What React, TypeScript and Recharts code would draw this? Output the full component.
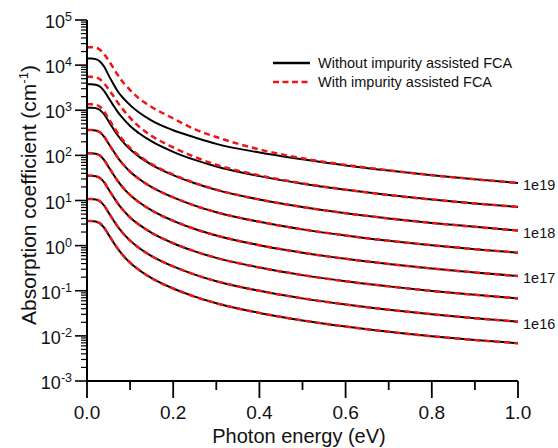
import React from 'react';
import { LineChart, Line, XAxis, YAxis, ReferenceDot } from 'recharts';

const energy = [0, 0.01, 0.02, 0.03, 0.04, 0.05, 0.06, 0.07, 0.08, 0.1, 0.12, 0.15, 0.2, 0.25, 0.3, 0.4, 0.5, 0.6, 0.7, 0.8, 0.9, 1.0];

// Without impurity assisted FCA (black solid), one per doping level (top to bottom)
const noImp1 = [14000, 14000, 13600, 12100, 9200, 6000, 4000, 2750, 2050, 1300, 900, 590, 360, 250, 180, 116, 82, 60, 46, 36.2, 29.5, 24.4];
const noImp2 = [3760, 3760, 3674, 3350, 2662, 1884, 1335, 955, 718, 447, 313, 204, 120, 79.3, 56.8, 34.7, 23.6, 17.3, 13.2, 10.5, 8.6, 7.2];
const noImp3 = [1140, 1140, 1114, 1016, 807, 571, 405, 290, 218, 136, 94.8, 61.9, 36.5, 24.1, 17.2, 10.5, 7.16, 5.23, 4.01, 3.19, 2.61, 2.15];
const noImp4 = [365, 365, 357, 325, 258, 183, 130, 92.7, 69.7, 43.4, 30.4, 19.8, 11.7, 7.7, 5.51, 3.37, 2.29, 1.68, 1.28, 1.02, 0.836, 0.697];
const noImp5 = [111, 111, 108.4, 98.9, 78.6, 55.6, 39.4, 28.2, 21.2, 13.2, 9.24, 6.03, 3.55, 2.34, 1.68, 1.02, 0.697, 0.509, 0.391, 0.311, 0.254, 0.212];
const noImp6 = [35.4, 35.4, 34.6, 31.5, 25.1, 17.7, 12.6, 8.99, 6.76, 4.21, 2.95, 1.92, 1.13, 0.747, 0.535, 0.327, 0.222, 0.162, 0.125, 0.0991, 0.0811, 0.0676];
const noImp7 = [10.8, 10.8, 10.55, 9.62, 7.65, 5.41, 3.83, 2.74, 2.06, 1.29, 0.899, 0.586, 0.346, 0.228, 0.163, 0.0997, 0.0678, 0.0496, 0.038, 0.0302, 0.0247, 0.0206];
const noImp8 = [3.5, 3.5, 3.42, 3.12, 2.48, 1.75, 1.24, 0.889, 0.669, 0.417, 0.291, 0.19, 0.112, 0.0739, 0.0529, 0.0323, 0.022, 0.0161, 0.0123, 0.0098, 0.0081, 0.0069];

// With impurity assisted FCA (red dashed)
const withImp1 = [25000, 25000, 24400, 22000, 17500, 12800, 9000, 6300, 4600, 2800, 1850, 1180, 660, 380, 255, 135, 86, 61.5, 46.5, 36.5, 29.6, 24.5];
const withImp2 = [5500, 5500, 5370, 4850, 3900, 2950, 2150, 1550, 1150, 680, 440, 270, 150, 92, 62, 36, 24, 17.4, 13.2, 10.5, 8.6, 7.2];
const withImp3 = [1350, 1350, 1318, 1195, 935, 655, 460, 325, 240, 146, 100, 64, 37.5, 24.5, 17.4, 10.5, 7.16, 5.23, 4.01, 3.19, 2.61, 2.15];
const withImp4 = noImp4;
const withImp5 = noImp5;
const withImp6 = noImp6;
const withImp7 = noImp7;
const withImp8 = noImp8;

const blackSeries = [noImp1, noImp2, noImp3, noImp4, noImp5, noImp6, noImp7, noImp8];
const redSeries = [withImp1, withImp2, withImp3, withImp4, withImp5, withImp6, withImp7, withImp8];

const dopingLabels = ['1e19', '1e18', '1e17', '1e16'];
const dopingCurveIndex = [0, 2, 4, 6];

const xTicks = [0, 0.1, 0.2, 0.3, 0.4, 0.5, 0.6, 0.7, 0.8, 0.9, 1.0];
const yMajorTicks = [1e-3, 1e-2, 1e-1, 1, 10, 100, 1e3, 1e4, 1e5];
const yMinorMultipliers = [2, 3, 4, 5, 6, 7, 8, 9];

const yTicks: number[] = [];
yMajorTicks.forEach((m, i) => {
  yTicks.push(m);
  if (i < yMajorTicks.length - 1) yMinorMultipliers.forEach((k) => yTicks.push(m * k));
});

const data = energy.map((x, i) => {
  const row: any = { x };
  blackSeries.forEach((s, j) => (row['b' + j] = s[i]));
  redSeries.forEach((s, j) => (row['r' + j] = s[i]));
  return row;
});

const FONT = '"Liberation Sans", Arial, sans-serif';
const RED = '#f01414';

const YTick = (props: any) => {
  const { x, y, payload } = props;
  const v = payload.value as number;
  const e = Math.round(Math.log10(v));
  const isMajor = Math.abs(v - Math.pow(10, e)) < 1e-6 * Math.pow(10, e);
  return (
    <g>
      <line x1={x - (isMajor ? 12 : 6)} x2={x} y1={y} y2={y} stroke="#000" strokeWidth={isMajor ? 1.6 : 1.2} />
      {isMajor && (
        <text x={x - 15} y={y + 8} textAnchor="end" fontSize={18} fontFamily={FONT} fill="#111">
          <tspan>10</tspan>
          <tspan dy={-7} fontSize={12.5}>{String(e)}</tspan>
        </text>
      )}
    </g>
  );
};

const XTick = (props: any) => {
  const { x, y, payload } = props;
  const v = payload.value as number;
  const idx = Math.round(v * 10);
  const isMajor = idx % 2 === 0;
  return (
    <g>
      <line x1={x} x2={x} y1={y} y2={y + (isMajor ? 17 : 9)} stroke="#000" strokeWidth={1.8} />
      {isMajor && (
        <text x={x} y={y + 38} textAnchor="middle" fontSize={19} fontFamily={FONT} fill="#111">
          {v.toFixed(1)}
        </text>
      )}
    </g>
  );
};

export default function App() {
  return (
    <div style={{ position: 'absolute', left: 0, top: 0, width: 558, height: 448, background: '#fff' }}>
      <LineChart width={558} height={448} data={data} margin={{ top: 20, right: 40, bottom: 0, left: 0 }}>
        <XAxis
          dataKey="x"
          type="number"
          domain={[0, 1]}
          ticks={xTicks}
          interval={0}
          height={67}
          tickSize={0}
          tickMargin={0}
          tickLine={false}
          axisLine={{ stroke: '#000', strokeWidth: 2 }}
          tick={<XTick />}
          allowDataOverflow
        />
        <YAxis
          type="number"
          scale="log"
          domain={[1e-3, 1e5]}
          ticks={yTicks}
          interval={0}
          width={87}
          tickSize={0}
          tickMargin={0}
          tickLine={false}
          axisLine={{ stroke: '#000', strokeWidth: 2 }}
          tick={<YTick />}
          allowDataOverflow
        />
        {blackSeries.map((_, j) => (
          <Line
            key={'b' + j}
            dataKey={'b' + j}
            type="monotone"
            stroke="#000"
            strokeWidth={2}
            dot={false}
            isAnimationActive={false}
          />
        ))}
        {redSeries.map((_, j) => (
          <Line
            key={'r' + j}
            dataKey={'r' + j}
            type="monotone"
            stroke={RED}
            strokeWidth={2.5}
            strokeDasharray="6 4"
            dot={false}
            isAnimationActive={false}
          />
        ))}
        {dopingLabels.map((lab, k) => (
          <ReferenceDot
            key={lab}
            x={1.0}
            y={blackSeries[dopingCurveIndex[k]][energy.length - 1]}
            r={0}
            ifOverflow="visible"
            label={{ value: lab, position: 'right', offset: 5, fontSize: 14.5, fontFamily: FONT, fill: '#111', dy: 2 }}
          />
        ))}
      </LineChart>
      <svg width={558} height={448} style={{ position: 'absolute', left: 0, top: 0, pointerEvents: 'none' }}>
        <line x1={273} x2={310} y1={63} y2={63} stroke="#000" strokeWidth={2.5} />
        <text x={318} y={68} fontSize={14.5} fontFamily={FONT} fill="#111">Without impurity assisted FCA</text>
        <line x1={273} x2={310} y1={82} y2={82} stroke={RED} strokeWidth={2.5} strokeDasharray="6 3.5" />
        <text x={318} y={87} fontSize={14.5} fontFamily={FONT} fill="#111">With impurity assisted FCA</text>
        <text x={299} y={443} textAnchor="middle" fontSize={20} fontFamily={FONT} fill="#111">Photon energy (eV)</text>
        <text
          x={36}
          y={195}
          transform="rotate(-90 36 195)"
          textAnchor="middle"
          fontSize={21}
          fontFamily={FONT}
          fill="#111"
        >
          Absorption coefficient (cm<tspan dy={-8} fontSize={13}>-1</tspan><tspan dy={8}>)</tspan>
        </text>
      </svg>
    </div>
  );
}
